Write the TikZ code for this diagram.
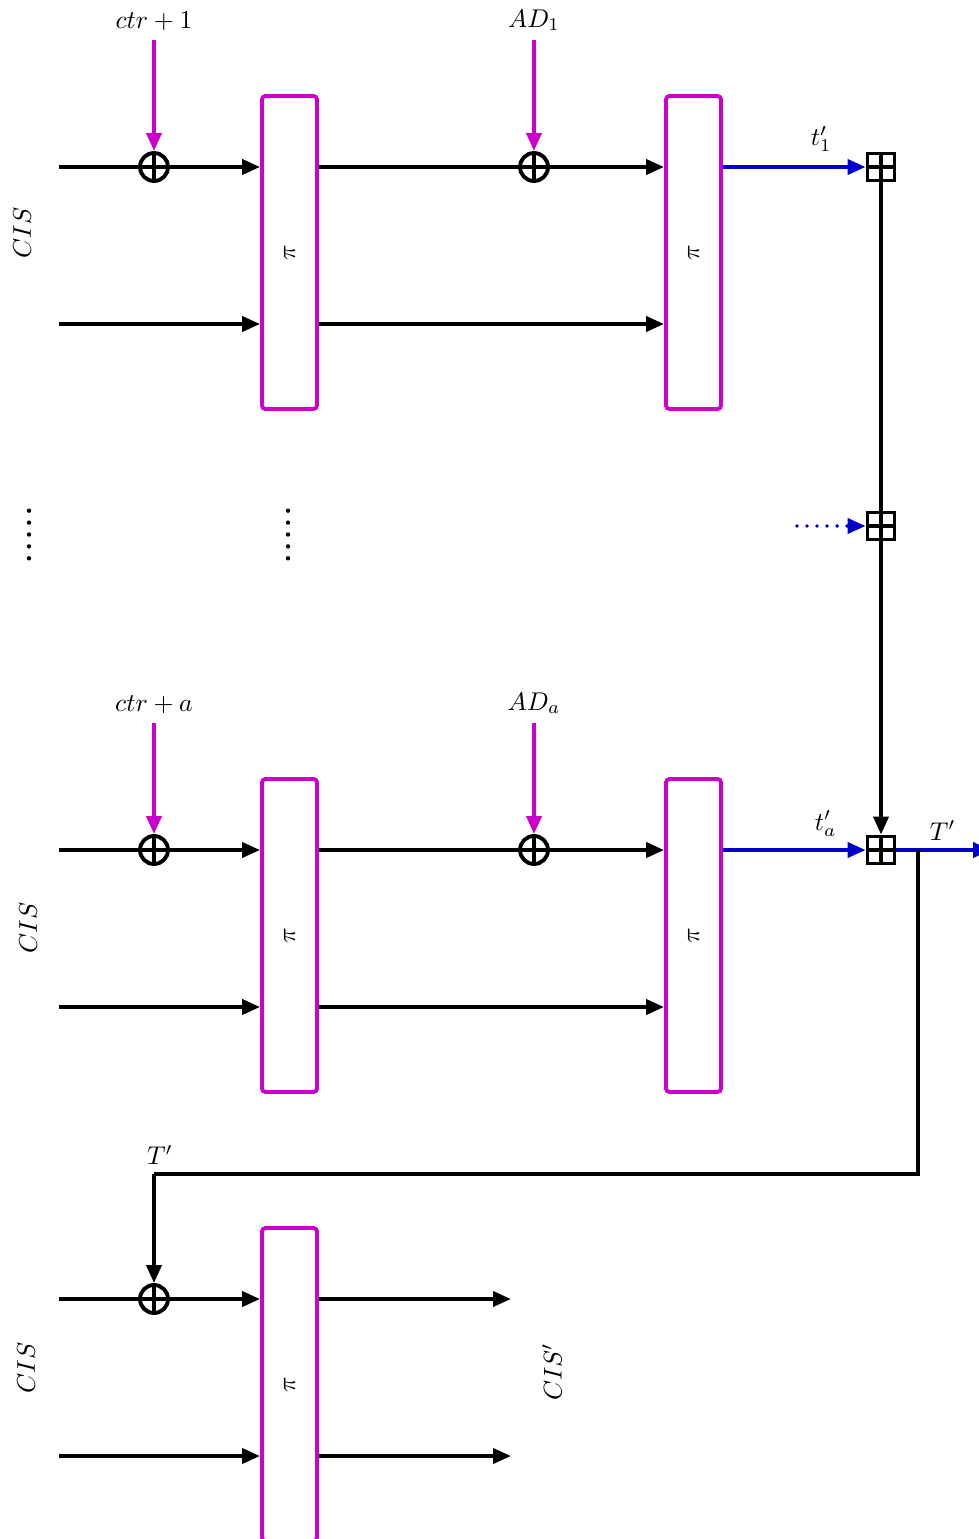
\documentclass[tikz,border=0pt]{standalone}
\usepackage{tikz}
\usetikzlibrary{positioning, arrows.meta}
\usepackage{amsmath}

\definecolor{permcol}{RGB}{204,0,204}
\definecolor{tagcol}{RGB}{0,0,204}

\tikzset{
  plusmark/.style={path picture={\draw[line width=1.1pt]
      (path picture bounding box.north) -- (path picture bounding box.south)
      (path picture bounding box.west) -- (path picture bounding box.east);}},
  xorgate/.style={circle, draw, line width=1.1pt, minimum size=0.28cm, inner sep=0pt, plusmark},
  addgate/.style={rectangle, draw, line width=1.1pt, minimum size=0.27cm, inner sep=0pt, plusmark},
  perm/.style={rectangle, draw=permcol, line width=1.1pt, rounded corners=1pt,
      minimum width=0.55cm, minimum height=3.13cm, inner sep=0pt},
  wire/.style={line width=1.1pt},
  arr/.style={-{Triangle[length=1.8mm, width=1.5mm]}, wire},
  magarr/.style={arr, permcol},
  bluearr/.style={arr, tagcol},
  txt/.style={scale=0.73, transform shape, black},
  lab/.style={txt, rotate=90}
}
\newcommand{\permtext}{\scalebox{0.73}{\rotatebox{90}{$\pi$}}}

\begin{document}
\begin{tikzpicture}
\useasboundingbox (0,0) rectangle (9.79,-15.39);

% first block: ctr+1 and AD_1
\coordinate (in1a) at (0.59,-1.67);   % upper input
\coordinate (in1b) at (0.59,-3.24);   % lower input
\coordinate (k1) at (1.54,-0.40);     % counter in
\coordinate (d1) at (5.34,-0.40);     % AD in
\node[xorgate] (x11) at (1.54,-1.67) {};
\node[xorgate] (x12) at (5.34,-1.67) {};
\node[perm] (b11) at (2.895,-2.525) {\permtext};
\node[perm] (b12) at (6.935,-2.525) {\permtext};
\node[addgate] (p1) at (8.81,-1.67) {};
\node[lab] at (0.22,-2.33) {$CIS$};

\node[above, txt] at (k1) {$ctr+1$};
\node[above, txt] at (d1) {$AD_1$};
\draw[magarr] (k1) -- (x11.north);
\draw[magarr] (d1) -- (x12.north);

\draw[wire] (in1a) -- (x11.west);
\draw[arr] (x11.east) -- (x11.east -| b11.west);
\draw[wire] (x11 -| b11.east) -- (x12.west);
\draw[arr] (x12.east) -- (x12.east -| b12.west);
\draw[arr] (in1b) -- (in1b -| b11.west);
\draw[arr] (in1b -| b11.east) -- (in1b -| b12.west);
\draw[bluearr] (x12 -| b12.east) -- node[above, pos=0.69, yshift=1.5pt, txt] {$t'_1$} (p1.west);

% the rows in between
\foreach \i in {0,...,4} {
  \fill (0.29,-5.107-0.119*\i) circle (0.022);
  \fill (2.88,-5.107-0.119*\i) circle (0.022);
}
\coordinate (dd) at (7.97,-5.26);
\node[addgate] (p2) at (8.81,-5.26) {};
\draw[bluearr, dash pattern=on 0pt off 2.85pt, line cap=round] (dd) -- (p2.west);

% block a: ctr+a and AD_a
\coordinate (ina) at (0.59,-8.50);
\coordinate (inb) at (0.59,-10.07);
\coordinate (ka) at (1.54,-7.23);
\coordinate (da) at (5.34,-7.23);
\node[xorgate] (xa1) at (1.54,-8.50) {};
\node[xorgate] (xa2) at (5.34,-8.50) {};
\node[perm] (ba1) at (2.895,-9.355) {\permtext};
\node[perm] (ba2) at (6.935,-9.355) {\permtext};
\node[addgate] (p3) at (8.81,-8.50) {};
\node[lab] at (0.28,-9.28) {$CIS$};

\node[above, txt] at (ka) {$ctr+a$};
\node[above, txt] at (da) {$AD_a$};
\draw[magarr] (ka) -- (xa1.north);
\draw[magarr] (da) -- (xa2.north);

\draw[wire] (ina) -- (xa1.west);
\draw[arr] (xa1.east) -- (xa1.east -| ba1.west);
\draw[wire] (xa1 -| ba1.east) -- (xa2.west);
\draw[arr] (xa2.east) -- (xa2.east -| ba2.west);
\draw[arr] (inb) -- (inb -| ba1.west);
\draw[arr] (inb -| ba1.east) -- (inb -| ba2.west);
\draw[bluearr] (xa2 -| ba2.east) -- node[above, pos=0.72, yshift=1pt, txt] {$t'_a$} (p3.west);

% tag chain
\draw[wire] (p1.south) -- (p2.north);
\draw[arr] (p2.south) -- (p3.north);
\coordinate (tout) at (9.91,-8.50);
\draw[bluearr] (p3.east) -- node[above, pos=0.49, txt] {$T'$} (tout);

% final block: T' fed back
\coordinate (j) at (9.18,-8.50);
\coordinate (c2) at (9.18,-11.74);
\coordinate (c3) at (1.54,-11.74);
\coordinate (inc) at (0.59,-12.99);
\coordinate (ind) at (0.59,-14.56);
\node[xorgate] (xf) at (1.54,-12.99) {};
\node[perm] (bf) at (2.895,-13.845) {\permtext};
\node[lab] at (0.26,-13.68) {$CIS$};
\node[lab] at (5.52,-13.72) {$CIS'$};
\node[above, xshift=0.06cm, txt] at (c3) {$T'$};

\draw[wire] (j) -- (c2) -- (c3);
\draw[arr] (c3) -- (xf.north);
\draw[wire] (inc) -- (xf.west);
\draw[arr] (xf.east) -- (xf.east -| bf.west);
\draw[arr] (ind) -- (ind -| bf.west);
\draw[arr] (xf -| bf.east) -- (5.11,-12.99);
\draw[arr] (ind -| bf.east) -- (5.11,-14.56);
\end{tikzpicture}
\end{document}
